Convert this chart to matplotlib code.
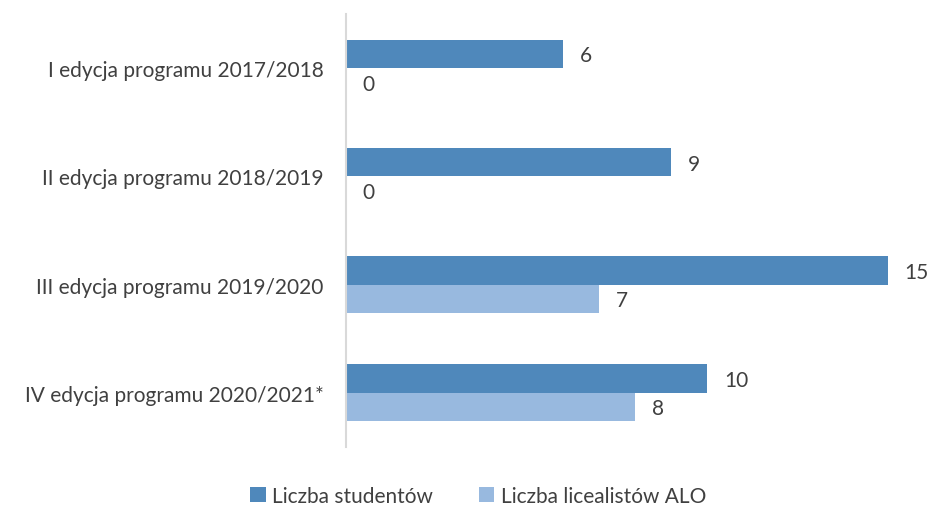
import numpy as np
import matplotlib.pyplot as plt

categories = ["I edycja programu 2017/2018", "II edycja programu 2018/2019",
              "III edycja programu 2019/2020", "IV edycja programu 2020/2021*"]
studenci = [6, 9, 15, 10]
licealisci = [0, 0, 7, 8]
series_names = ["Liczba studentów", "Liczba licealistów ALO"]

dark = "#4f88bb"
light = "#98b9df"
text_col = "#404040"

plt.rcParams['font.family'] = ['Lato', 'DejaVu Sans']

fig = plt.figure(figsize=(9.31, 5.10), dpi=100)
ax = fig.add_axes([346/931, 1 - 448/510, (888 - 346)/931, (448 - 15)/510])

y = np.arange(len(categories))
h = 0.263
b1 = ax.barh(y - h/2, studenci, height=h, color=dark, label=series_names[0])
b2 = ax.barh(y + h/2, licealisci, height=h, color=light, label=series_names[1])

for bars, vals in [(b1, studenci), (b2, licealisci)]:
    for bar, v in zip(bars, vals):
        ax.annotate(str(v), (v, bar.get_y() + bar.get_height()/2),
                    xytext=(12, -1), textcoords="offset points",
                    ha="left", va="center", fontsize=15, color=text_col)

ax.set_xlim(0, 15)
ax.set_ylim(3.5, -0.5)
ax.set_yticks(y)
ax.set_yticklabels(categories, fontsize=15, color=text_col)
ax.tick_params(axis="y", length=0, pad=16)
ax.set_xticks([])
for s in ["top", "right", "bottom"]:
    ax.spines[s].set_visible(False)
ax.spines["left"].set_color("#d9d9d9")
ax.spines["left"].set_linewidth(1.5)

fig.legend(loc="center", bbox_to_anchor=(478/931, 1 - 497/510), ncol=2, frameon=False,
           fontsize=15, labelcolor=text_col, handlelength=0.75, handleheight=0.75,
           handletextpad=0.3, columnspacing=2.2)

fig.savefig("out.png", dpi=100)
